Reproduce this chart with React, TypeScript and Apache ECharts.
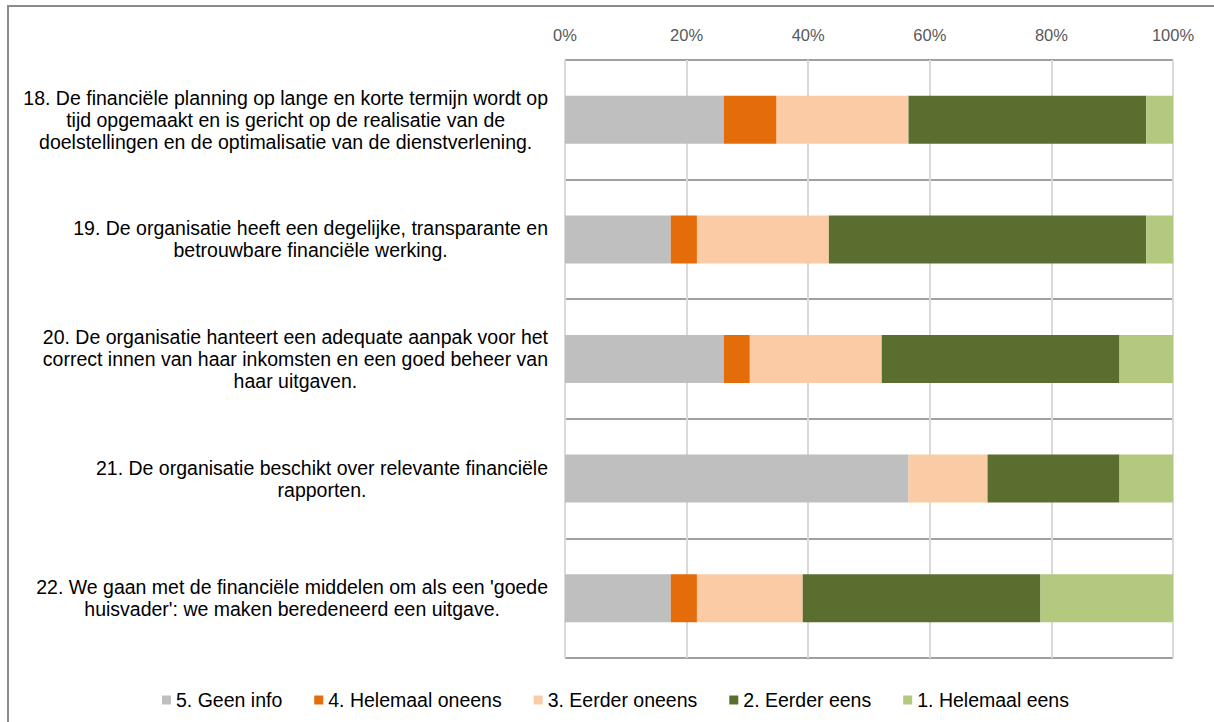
import React, { useEffect, useRef } from "react";
import * as echarts from "echarts";

const categories: string[] = [
  "18. De financiële planning op lange en korte termijn wordt op\ntijd opgemaakt en is gericht op de realisatie van de\ndoelstellingen en de optimalisatie van de dienstverlening.",
  "19. De organisatie heeft een degelijke, transparante en\nbetrouwbare financiële werking.",
  "20. De organisatie hanteert een adequate aanpak voor het\ncorrect innen van haar inkomsten en een goed beheer van\nhaar uitgaven.",
  "21. De organisatie beschikt over relevante financiële\nrapporten.",
  "22. We gaan met de financiële middelen om als een 'goede\nhuisvader': we maken beredeneerd een uitgave.",
];

const seriesNames: string[] = [
  "5. Geen info",
  "4. Helemaal oneens",
  "3. Eerder oneens",
  "2. Eerder eens",
  "1. Helemaal eens",
];

const geenInfo: number[] = [26.1, 17.4, 26.1, 56.5, 17.4];
const helemaalOneens: number[] = [8.7, 4.3, 4.3, 0, 4.3];
const eerderOneens: number[] = [21.7, 21.7, 21.7, 13.0, 17.4];
const eerderEens: number[] = [39.1, 52.2, 39.1, 21.7, 39.1];
const helemaalEens: number[] = [4.4, 4.4, 8.8, 8.8, 21.8];

const seriesValues: number[][] = [geenInfo, helemaalOneens, eerderOneens, eerderEens, helemaalEens];
const seriesColors: string[] = ["#BFBFBF", "#E46C0A", "#FACBA4", "#5A6E2F", "#B3C97F"];

const xTicks = { min: 0, max: 100, interval: 20 };

const FONT = "'Liberation Sans', Arial, sans-serif";

export default function App() {
  const ref = useRef<HTMLDivElement>(null);
  useEffect(() => {
    if (!ref.current) return;
    const chart = echarts.init(ref.current, undefined, { renderer: "svg" });
    chart.setOption({
      animation: false,
      backgroundColor: "#ffffff",
      textStyle: { fontFamily: FONT },
      graphic: [
        {
          type: "rect",
          z: -10,
          shape: { x: 8, y: 6, width: 1400, height: 900 },
          style: { fill: "none", stroke: "#8c8c8c", lineWidth: 2 },
        },
      ],
      grid: { left: 565, right: 41, top: 60, bottom: 64 },
      legend: {
        left: 157,
        top: 685,
        icon: "rect",
        itemWidth: 9,
        itemHeight: 9,
        itemGap: 32,
        textStyle: { fontFamily: FONT, fontSize: 19.5, color: "#000" },
        data: seriesNames,
      },
      xAxis: {
        type: "value",
        position: "top",
        min: xTicks.min,
        max: xTicks.max,
        interval: xTicks.interval,
        axisLine: { show: false },
        axisTick: { show: false },
        axisLabel: {
          formatter: "{value}%",
          color: "#595959",
          fontFamily: FONT,
          fontSize: 16.5,
          margin: 17,
        },
        splitLine: { show: true, lineStyle: { color: "#D9D9D9", width: 2 } },
      },
      yAxis: {
        type: "category",
        inverse: true,
        data: categories,
        axisLine: { show: false },
        axisTick: { show: false },
        axisLabel: {
          margin: 17,
          formatter: (v: string) => v.split("\n").map((l) => `{c|${l}}`).join("\n"),
          rich: {
            c: { align: "center", fontFamily: FONT, fontSize: 19.5, color: "#000", lineHeight: 22 },
          },
        },
        splitLine: { show: true, lineStyle: { color: "#A0A0A0", width: 2 } },
      },
      series: seriesNames.map((name, i) => ({
        name,
        type: "bar",
        stack: "total",
        barWidth: 48,
        itemStyle: { color: seriesColors[i] },
        data: seriesValues[i],
      })),
    });
    return () => chart.dispose();
  }, []);
  return <div ref={ref} style={{ position: "fixed", left: 0, top: 0, width: 1214, height: 722 }} />;
}
